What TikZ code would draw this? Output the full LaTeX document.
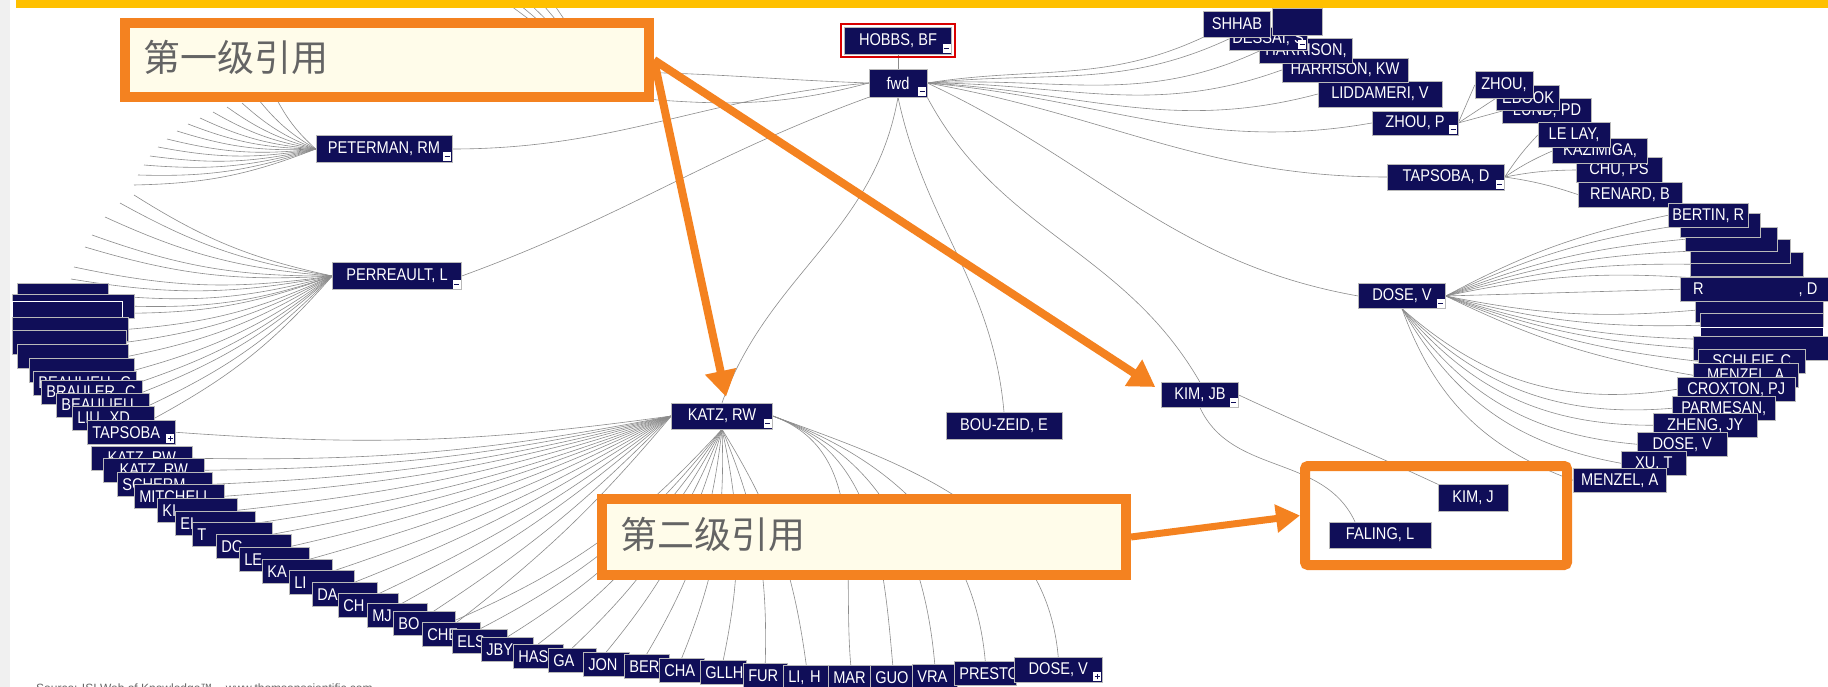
\documentclass[tikz,border=0pt]{standalone}
\usepackage{fontspec}
\setmainfont{Liberation Sans}
\newfontfamily\authorfont[FakeStretch=0.86]{Liberation Sans}
\newfontfamily\cjkfont{Noto Sans CJK SC}
\usetikzlibrary{arrows.meta}
\pgfdeclarelayer{back}\pgfdeclarelayer{bg}\pgfdeclarelayer{front}
\pgfsetlayers{back,bg,main,front}
\definecolor{navy}{RGB}{16,14,88}
\definecolor{orangeb}{RGB}{244,130,32}
\definecolor{creamy}{RGB}{255,252,234}
\definecolor{topbar}{RGB}{255,192,0}
\definecolor{cjkgray}{RGB}{100,100,100}
\definecolor{linkgray}{RGB}{140,140,140}
\tikzset{
  au/.style={fill=navy, draw=gray!55, line width=0.5pt, text=white,
    font=\authorfont\fontsize{17}{17}\selectfont, inner sep=0pt, minimum height=25pt},
  cn/.style={au, minimum width=#1},
  sb/.style={au, anchor=north west, minimum width=#1, minimum height=24pt},
  lb/.style={au, anchor=north west, text width=#1, align=left, inner xsep=5pt, minimum height=24pt},
  link/.style={draw=linkgray, line width=0.6pt},
  minusmark/.style={path picture={
    \fill[white] ([xshift=-9pt,yshift=1pt]path picture bounding box.south east) rectangle ([xshift=-1pt,yshift=10pt]path picture bounding box.south east);
    \draw[navy, line width=1pt] ([xshift=-7.5pt,yshift=5.5pt]path picture bounding box.south east) -- ([xshift=-2.5pt,yshift=5.5pt]path picture bounding box.south east);}},
  plusmark/.style={path picture={
    \fill[white] ([xshift=-9pt,yshift=1pt]path picture bounding box.south east) rectangle ([xshift=-1pt,yshift=10pt]path picture bounding box.south east);
    \draw[navy, line width=1pt] ([xshift=-7.5pt,yshift=5.5pt]path picture bounding box.south east) -- ([xshift=-2.5pt,yshift=5.5pt]path picture bounding box.south east);
    \draw[navy, line width=1pt] ([xshift=-5pt,yshift=3pt]path picture bounding box.south east) -- ([xshift=-5pt,yshift=8pt]path picture bounding box.south east);}},
  obox/.style={draw=orangeb, line width=10pt, inner sep=0pt},
  cjk/.style={font=\cjkfont\fontsize{37}{37}\selectfont, text=cjkgray, inner sep=0pt},
  oarrow/.style={draw=orangeb, line width=8pt, -{Triangle[length=26pt,width=30pt]}, orangeb},
}
\begin{document}
\begin{tikzpicture}[x=1pt,y=-1pt]
\useasboundingbox (0,0) rectangle (1828,687);
\begin{pgfonlayer}{back}
\fill[white] (0,0) rectangle (1828,687);
\end{pgfonlayer}

% ---------- first level ----------
\node[cn=107pt, minimum height=27pt, minusmark] (hobbs) at (898,40.5) {HOBBS, BF};
\node[cn=58pt, minimum height=28pt, minusmark] (fwd) at (898,83) {fwd};
\node[cn=136pt, minimum height=27pt, minusmark] (peterman) at (384,149) {PETERMAN, RM};
\node[cn=129pt, minimum height=27pt, minusmark] (perreault) at (397,276) {PERREAULT, L};
\node[cn=101pt, minimum height=26pt, minusmark] (katz) at (722,416) {KATZ, RW};
\node[cn=116pt, minimum height=27pt] (bouzeid) at (1004,426) {BOU-ZEID, E};
\node[cn=77pt, minusmark] (kimjb) at (1200,395) {KIM, JB};
\node[cn=87pt, minusmark] (dosev) at (1402,296) {DOSE, V};
\node[cn=117pt, minimum height=26pt, minusmark] (tapsobad) at (1446,177) {TAPSOBA, D};
\node[cn=124pt, minimum height=26pt] (liddameri) at (1380,94) {LIDDAMERI, V};
\node[cn=126pt, minimum height=24pt] (harrisonkw) at (1345,70) {HARRISON, KW};
\node[cn=93pt] (harrison) at (1306,51) {HARRISON,};
\node[cn=78pt, minimum height=23pt, minusmark] (dessai) at (1268,39) {DESSAI, S};
\node[cn=50pt, minimum height=27pt] (hidbox) at (1297,22) {};
\node[cn=67pt, minimum height=26pt] (shhab) at (1237,24) {SHHAB};
\node[cn=86pt, minimum height=24pt, minusmark] (zhoup) at (1415,123) {ZHOU, P};
\draw[red!85!black, line width=1.8pt] ([xshift=-3pt,yshift=-3pt]hobbs.south west) rectangle ([xshift=3pt,yshift=3pt]hobbs.north east);

% ---------- ZHOU, P children ----------
\node[cn=89pt] (lund) at (1547,111) {LUND, PD};
\node[cn=63pt] (erbook) at (1528,98) {EBOOK};
\node[cn=58pt, minimum height=27pt] (zhou2) at (1504,85) {ZHOU,};
% ---------- TAPSOBA, D children ----------
\node[cn=86pt] (chu) at (1619,170) {CHU, PS};
\node[cn=104pt] (renard) at (1630,194.5) {RENARD, B};
\node[cn=95pt] (kazi) at (1600,151) {KAZIMIGA,};
\node[cn=72pt] (lelay) at (1574,135) {LE LAY,};
% ---------- KIM, JB children ----------
\node[cn=70pt, minimum height=27pt] (kimj) at (1473,498) {KIM, J};
\node[cn=102pt, minimum height=26pt] (faling) at (1380,535) {FALING, L};

% ---------- DOSE, V children (right stack) ----------
\node[sb=103pt] (r6) at (1700,266) {MENZEL, A};
\node[sb=113pt] (r5) at (1690,252) {};
\node[sb=100pt] (r4) at (1690,239) {};
\node[sb=92pt] (r3) at (1685,227) {};
\node[sb=80pt] (r2) at (1680,213) {};
\node[sb=80pt] (r1) at (1668,203) {BERTIN, R};
\node[sb=128pt] (r8) at (1695,298) {};
\node[sb=123pt] (r9) at (1700,313) {};
\node[sb=123pt, draw=white] (r10) at (1700,327) {};
\node[sb=135pt] (r11) at (1693,336) {};
\node[sb=107pt] (r12) at (1698,349) {SCHLEIF, C};
\node[sb=105pt] (r13) at (1693,363) {MENZEL, A};
\node[sb=118pt] (r14) at (1677,377) {CROXTON, PJ};
\node[sb=103pt] (r15) at (1672,396) {PARMESAN,};
\node[sb=104pt] (r16) at (1653,413) {ZHENG, JY};
\node[sb=90pt] (r17) at (1637,432) {DOSE, V};
\node[sb=65pt] (r18) at (1621,451) {XU, T};
\node[sb=93pt] (r19) at (1573,468) {MENZEL, A};
\node[sb=150pt] (r7) at (1680,277) {R\hspace{95pt}, D};

% ---------- PERREAULT, L children (left stack) ----------
\node[lb=81pt] (l1) at (17,283) {};
\node[lb=112pt] (l2) at (12,294) {};
\node[lb=100pt, draw=white] (l3) at (12,301) {};
\node[lb=106pt] (l4) at (12,317) {};
\node[lb=104pt] (l5) at (12,330) {};
\node[lb=101pt] (l6) at (17,344) {};
\node[lb=95pt] (l7) at (29,358) {};
\node[lb=93pt] (l8) at (33,371) {BEAULIEU, C};
\node[lb=91pt] (l9) at (41,380) {BRAULER, C};
\node[lb=83pt] (l10) at (56,393) {BEAULIEU,};
\node[lb=72pt] (l11) at (72,406) {LIU, XD};
\node[lb=78pt, plusmark] (tapsobal) at (87,420) {TAPSOBA};

% ---------- KATZ, RW children (chain) ----------
\node[cn=101pt, anchor=north west, minimum height=24pt] (k1) at (91,446) {KATZ, RW};
\node[cn=101pt, anchor=north west, minimum height=24pt] (k2) at (103,458) {KATZ, RW};
\node[lb=85pt] (k3) at (117,472) {SCHERM};
\node[lb=80pt] (k4) at (134,484) {MITCHELL};
\node[lb=70pt] (k5) at (157,498) {KI};
\node[lb=70pt] (k6) at (175,511) {EL};
\node[lb=70pt] (k7) at (192,522) {T};
\node[lb=65pt] (k8) at (216,534) {DC};
\node[lb=60pt] (k9) at (239,547) {LE};
\node[lb=60pt] (k10) at (262,559) {KA};
\node[lb=55pt] (k11) at (289,570) {LI};
\node[lb=55pt] (k12) at (312,582) {DA};
\node[lb=50pt] (k13) at (338,593) {CH};
\node[lb=50pt] (k14) at (367,603) {MJ};
\node[lb=52pt] (k15) at (393,611) {BO};
\node[lb=48pt] (k16) at (422,622) {CHE};
\node[lb=45pt] (k17) at (452,629) {ELS};
\node[lb=42pt] (k18) at (481,637) {JBY};
\node[lb=40pt] (k19) at (513,644) {HAS};
\node[lb=38pt] (k20) at (548,648) {GA};
\node[lb=36pt] (k21) at (583,652) {JON};
\node[lb=35pt] (k22) at (624,654) {BER};
\node[lb=35pt] (k23) at (659,658) {CHA};
\node[lb=36pt] (k24) at (700,660) {GLLH};
\node[lb=34pt] (k25) at (743,663) {FUR};
\node[lb=36pt] (k26) at (783,665) {LI, H};
\node[lb=35pt] (k27) at (828,665) {MAR};
\node[lb=35pt] (k28) at (870,665) {GUO};
\node[lb=35pt] (k29) at (912,664) {VRA};
\node[lb=52pt] (k30) at (954,661) {PRESTO};
\node[cn=88pt, anchor=north west, plusmark] (k31) at (1014,657) {DOSE, V};

% ---------- connectors ----------
\begin{pgfonlayer}{bg}
\coordinate (hidA) at (600,72);
\coordinate (hidB) at (610,96);
\draw[link] (hobbs) -- (fwd);
\draw[link] (fwd.west) to[out=185,in=0] (peterman.east);
\draw[link] (fwd.south west) to[out=200,in=20] (perreault.east);
\draw[link] (fwd.west) to[out=178,in=0] (hidA);
\draw[link] (fwd.west) to[out=195,in=-5] (hidB);
\foreach \tx [count=\i] in {503,514,526,539,551} {
  \coordinate (ta\i) at (\tx,0);
  \draw[link] (hidA) -- (ta\i);
}
\draw[link] (fwd.south) to[out=-100,in=70] (katz.north);
\draw[link] (fwd.south) to[out=-78,in=95] (bouzeid.north);
\draw[link] (fwd.south east) to[out=-62,in=120] (kimjb.north);
\draw[link] (fwd.east) to[out=-25,in=170] (dosev.west);
\draw[link] (fwd.east) to[out=-10,in=180] (tapsobad.west);
\draw[link] (fwd.east) to[out=-5,in=190] (zhoup.west);
\draw[link] (fwd.east) to[out=-3,in=195] (liddameri.west);
\draw[link] (fwd.east) to[out=0,in=200] (harrisonkw.west);
\draw[link] (fwd.east) to[out=3,in=205] (harrison.west);
\draw[link] (fwd.east) to[out=6,in=205] (dessai.west);
\draw[link] (fwd.east) to[out=9,in=205] (shhab.south west);
% PETERMAN fan
\foreach \px/\py [count=\i] in {134/185,138/175,144/165,150/156,158/147,167/139,177/131,188/124,200/118,213/112,227/107,242/103,258/99,275/96} {
  \coordinate (pf\i) at (\px,\py);
  \draw[link] (peterman.west) to[bend left=10] (pf\i);
}
% PERREAULT fan
\foreach \px/\py [count=\i] in {134/195,120/203,105/217,92/235,85/247,74/267,71/279} {
  \coordinate (qf\i) at (\px,\py);
  \draw[link] (perreault.west) to[bend left=10] (qf\i);
}
\foreach \i in {1,...,11} \draw[link] (perreault.west) to[bend left=10] (l\i.east);
% KATZ fan
\draw[link] (katz.west) to[bend left=6] (tapsobal.east);
\foreach \i in {1,...,15} \draw[link] (katz.west) to[bend left=6] (k\i.east);
\foreach \i in {16,...,26} \draw[link] (katz.south) to[bend left=12] (k\i.north);
\foreach \i in {27,...,31} \draw[link] (katz.east) to[out=-20,in=95] (k\i.north);
% DOSE fan
\foreach \i in {1,...,6} \draw[link] (dosev.east) to[bend left=8] (r\i.west);
\draw[link] (dosev.east) -- (r7.west);
\foreach \i in {8,...,13} \draw[link] (dosev.east) to[bend right=8] (r\i.west);
\foreach \i in {14,...,19} \draw[link] (dosev.south) to[bend right=25] (r\i.west);
% TAPSOBA, ZHOU, KIM
\foreach \n in {lelay,kazi,chu,renard} \draw[link] (tapsobad.east) to[bend left=5] (\n.west);
\foreach \n in {zhou2,erbook,lund} \draw[link] (zhoup.east) -- (\n.west);
\draw[link] (kimjb.east) to[out=-25,in=155] (kimj.north west);
\draw[link] (kimjb.south) to[out=-65,in=115] ([xshift=-25pt]faling.north);
\end{pgfonlayer}

% ---------- orange call-outs ----------
\node[obox, fill=creamy, minimum width=524pt, minimum height=74pt] (box1) at (387,60) {};
\node[cjk, anchor=west] (t1) at (143,57) {第一级引用};
\node[obox, fill=creamy, minimum width=524pt, minimum height=76pt] (box2) at (864,537) {};
\node[cjk, anchor=west] (t2) at (620,534) {第二级引用};
\node[obox, rounded corners=3pt, minimum width=262pt, minimum height=99pt] (box3) at (1436,515.5) {};
\draw[oarrow] (box1.east) -- ([xshift=-6pt,yshift=8pt]kimjb.west);
\draw[oarrow] (box1.east) -- ([xshift=4pt,yshift=6pt]katz.north);
\draw[oarrow, line width=7pt, -{Triangle[length=24pt,width=27pt]}] (box2.east) -- (box3.west);

\node[anchor=base west, font=\fontsize{12}{12}\selectfont, text=gray!80!black, inner sep=0pt] (src) at (36,692) {Source: ISI Web of Knowledge™ – www.thomsonscientific.com};

\begin{pgfonlayer}{front}
\fill[gray!12] (0,0) rectangle (10,687);
\fill[topbar] (16,0) rectangle (1828,8);
\end{pgfonlayer}
\end{tikzpicture}
\end{document}
